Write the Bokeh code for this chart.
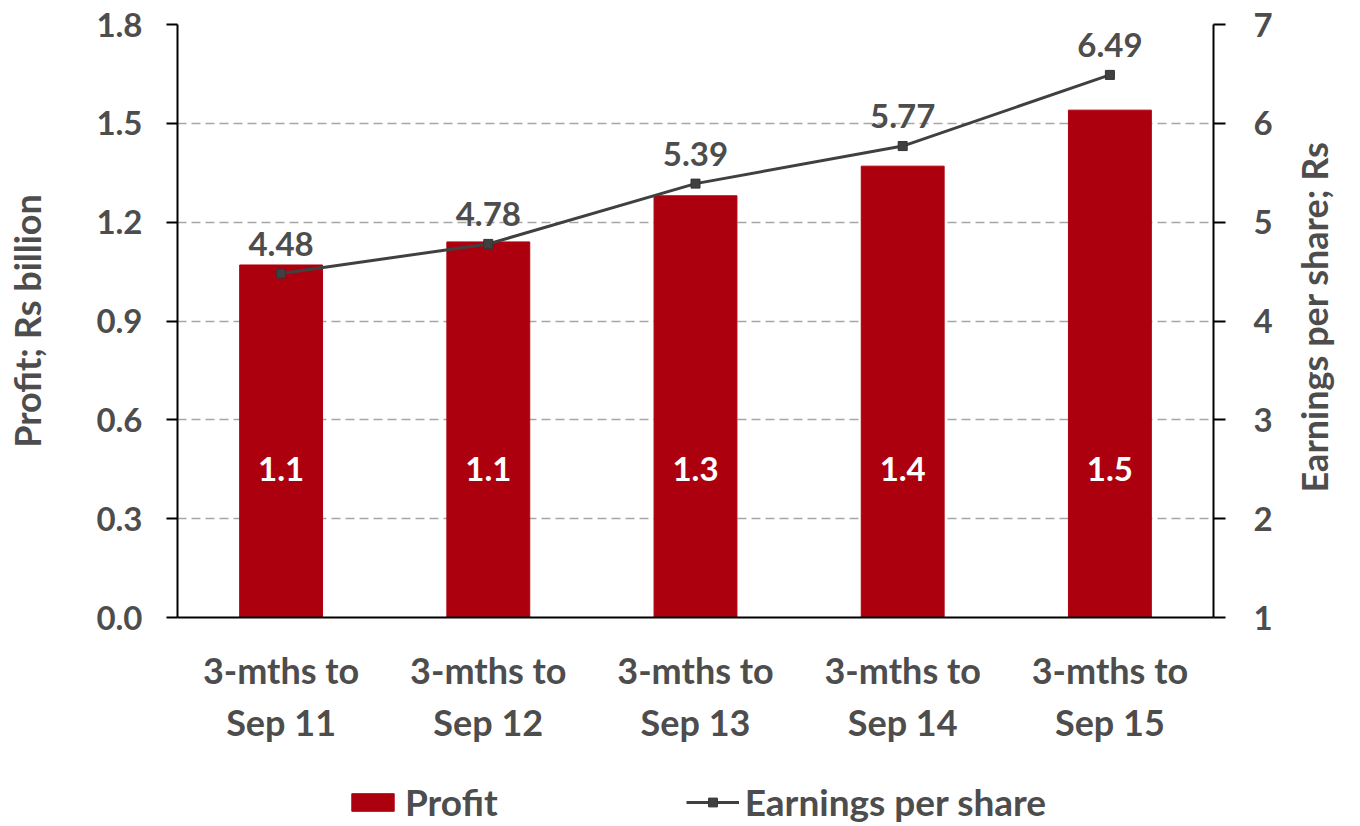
import math
from bokeh.plotting import figure
from bokeh.layouts import column
from bokeh.models import (FactorRange, Range1d, LinearAxis, FixedTicker, NumeralTickFormatter,
                          ColumnDataSource, Legend, LegendItem)
from bokeh.core.properties import value
from bokeh.embed import file_html
from bokeh.resources import INLINE

categories = ["3-mths to\nSep 11", "3-mths to\nSep 12", "3-mths to\nSep 13",
              "3-mths to\nSep 14", "3-mths to\nSep 15"]
profit = [1.07, 1.14, 1.28, 1.37, 1.54]
eps = [4.48, 4.78, 5.39, 5.77, 6.49]
left_ticks = [0.0, 0.3, 0.6, 0.9, 1.2, 1.5, 1.8]
right_ticks = [1, 2, 3, 4, 5, 6, 7]
series_names = ["Profit", "Earnings per share"]
right_title = "Earnings per share; Rs"

FONT = "Lato"
TXT = "#4d4d4d"
BAR = "#ad000f"
LINE = "#404040"

src = ColumnDataSource(dict(
    cat=categories,
    profit=profit,
    eps=eps,
    profit_lbl=[f"{v:.1f}" for v in profit],
    eps_lbl=[f"{v:.2f}" for v in eps],
    lbl_y=[0.45] * len(categories),
))

p = figure(width=1360, height=770, x_range=FactorRange(*categories),
           y_range=Range1d(0, 1.8), output_backend="svg", toolbar_location=None,
           min_border_left=177, min_border_right=140, min_border_top=24, min_border_bottom=153)
# frame is 593 px tall; "ttl" is a pixel scale used only to anchor the right title
p.extra_y_ranges = {"eps": Range1d(1, 7), "ttl": Range1d(0, 593)}
p.outline_line_color = None
p.background_fill_color = "white"
p.border_fill_color = "white"

bar_style = dict(color=BAR)
line_style = dict(line_color=LINE, line_width=3)
mark_style = dict(marker="square", size=9, fill_color=LINE, line_color="#333333")

p.vbar(x="cat", top="profit", width=0.4, source=src, **bar_style)
p.line(x="cat", y="eps", source=src, y_range_name="eps", **line_style)
p.scatter(x="cat", y="eps", source=src, y_range_name="eps", **mark_style)

p.text(x="cat", y="lbl_y", text="profit_lbl", source=src, text_color="white",
       text_font=value(FONT), text_font_style="bold", text_font_size="33px",
       text_align="center", text_baseline="middle")
p.text(x="cat", y="eps", text="eps_lbl", source=src, y_range_name="eps", text_color=TXT,
       text_font=value(FONT), text_font_style="bold", text_font_size="33px",
       text_align="center", text_baseline="middle", y_offset=-30)

# left axis
ya = p.yaxis[0]
ya.ticker = FixedTicker(ticks=left_ticks)
ya.formatter = NumeralTickFormatter(format="0.0")
ya.axis_label = "Profit; Rs billion"
ya.axis_label_standoff = 44
ya.major_label_standoff = 24
ya.major_tick_out = 11
ya.major_tick_in = 0
ya.minor_tick_out = 0
ya.minor_tick_in = 0

# right axis (ticks and numbers)
ra = LinearAxis(y_range_name="eps", ticker=FixedTicker(ticks=right_ticks))
ra.major_label_standoff = 28
ra.major_tick_out = 12
ra.major_tick_in = 0
ra.minor_tick_out = 0
ra.minor_tick_in = 0
p.add_layout(ra, "right")

# right axis title, reading upwards, carried as the single label of a bare axis
rt = LinearAxis(y_range_name="ttl", ticker=FixedTicker(ticks=[125]),
                major_label_overrides={125: right_title})
rt.axis_line_color = None
rt.major_tick_line_color = None
rt.minor_tick_line_color = None
rt.major_tick_out = 0
rt.major_tick_in = 0
rt.minor_tick_out = 0
rt.minor_tick_in = 0
rt.major_label_standoff = 38
rt.major_label_orientation = math.pi / 2
p.add_layout(rt, "right")

xa = p.xaxis[0]
xa.major_tick_out = 0
xa.major_tick_in = 0
xa.major_label_standoff = 30

for ax in (ya, ra, xa):
    ax.axis_line_color = "black"
    ax.axis_line_width = 2
    ax.major_tick_line_color = "black"
    ax.major_tick_line_width = 2
for ax in (ya, ra, xa, rt):
    ax.major_label_text_font = FONT
    ax.major_label_text_font_style = "bold"
    ax.major_label_text_font_size = "33px"
    ax.major_label_text_color = TXT
    ax.axis_label_text_font = FONT
    ax.axis_label_text_font_style = "bold"
    ax.axis_label_text_font_size = "36px"
    ax.axis_label_text_color = TXT
xa.major_label_text_font_size = "36px"
rt.major_label_text_font_size = "36px"

p.xgrid.grid_line_color = None
p.ygrid.grid_line_color = "#a6a6a6"
p.ygrid.grid_line_width = 1.5
p.ygrid.grid_line_dash = "9 5"
p.ygrid.ticker = FixedTicker(ticks=left_ticks)

# legend strip below the chart (its renderers use the same data, drawn out of view)
lg = figure(width=1360, height=56, x_range=FactorRange(*categories), y_range=Range1d(100, 101),
            output_backend="svg", toolbar_location=None,
            min_border_left=0, min_border_right=0, min_border_top=0, min_border_bottom=0)
lg.extra_y_ranges = {"eps": Range1d(100, 101)}
lg.axis.visible = False
lg.grid.visible = False
lg.outline_line_color = None
lg.background_fill_color = "white"
lg.border_fill_color = "white"
r_bar = lg.vbar(x="cat", top="profit", width=0.4, source=src, **bar_style)
r_line = lg.line(x="cat", y="eps", source=src, y_range_name="eps", **line_style)
r_mark = lg.scatter(x="cat", y="eps", source=src, y_range_name="eps", **mark_style)

legend = Legend(items=[LegendItem(label=series_names[0], renderers=[r_bar]),
                       LegendItem(label=series_names[1], renderers=[r_line, r_mark])],
                orientation="horizontal", location=(169, 2), spacing=188,
                glyph_width=53, glyph_height=22, label_standoff=6, padding=0, margin=0,
                border_line_alpha=0, background_fill_alpha=0,
                label_text_font=FONT, label_text_font_style="bold",
                label_text_font_size="37px", label_text_color=TXT)
lg.add_layout(legend, "center")

layout = column(p, lg, spacing=0)
open("out.html", "w").write(file_html(layout, INLINE))
